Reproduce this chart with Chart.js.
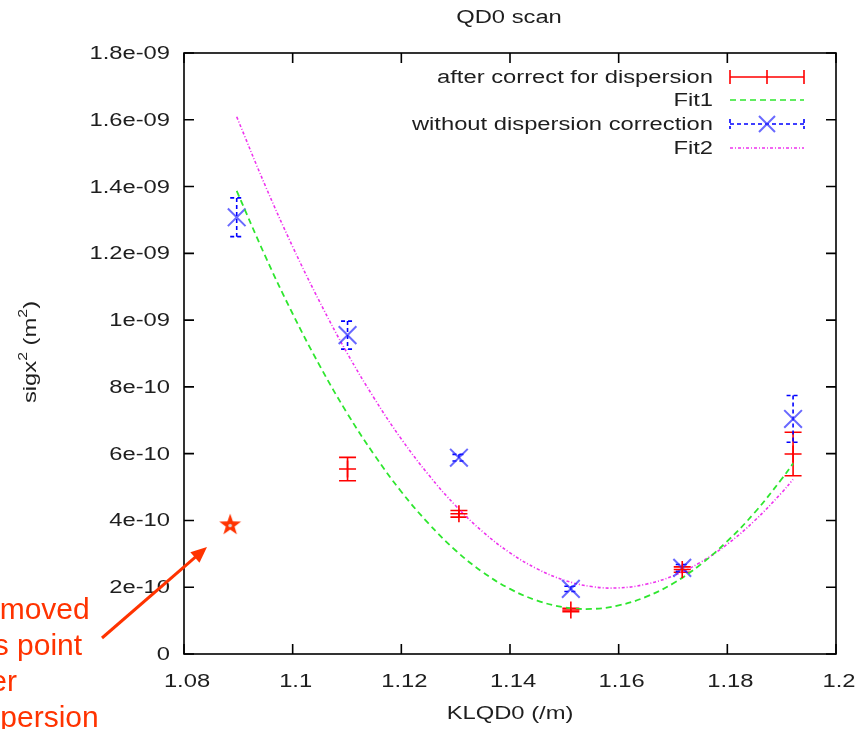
<!DOCTYPE html>
<html>
<head>
<meta charset="utf-8">
<title>QD0 scan</title>
<script src="https://cdn.jsdelivr.net/npm/chart.js@4.4.1/dist/chart.umd.min.js"></script>
<style>
  html, body { margin: 0; padding: 0; background: #fff; }
  #c { display: block; }
</style>
</head>
<body>
<canvas id="c" width="856" height="729"></canvas>
<script>
/* ── measured points: KLQD0 setting vs sigma_x^2 ── */
const kl       = [1.0897, 1.1101, 1.1306, 1.1512, 1.1717, 1.1921];
const sigCorr  = [null, 5.54e-10, 4.20e-10, 1.32e-10, 2.53e-10, 5.99e-10];
const errCorr  = [null, 0.35e-10, 0.10e-10, 0.05e-10, 0.08e-10, 0.65e-10];
const sigRaw   = [13.08e-10, 9.55e-10, 5.88e-10, 1.95e-10, 2.58e-10, 7.04e-10];
const errRaw   = [0.58e-10, 0.42e-10, 0.10e-10, 0.08e-10, 0.10e-10, 0.70e-10];

// point dropped after the dispersion correction
const removedX = [1.0885];
const removedY = [3.86e-10];

/* ── fit curves ── */
const fitX = [1.0897, 1.095, 1.100, 1.105, 1.110, 1.115, 1.120, 1.125, 1.130, 1.135, 1.140,
              1.145, 1.150, 1.155, 1.160, 1.165, 1.170, 1.175, 1.180, 1.185, 1.190, 1.1921];
const fit1 = [13.87e-10, 11.90e-10, 10.19e-10, 8.63e-10, 7.22e-10, 5.97e-10, 4.86e-10, 3.91e-10,
              3.10e-10, 2.45e-10, 1.95e-10, 1.60e-10, 1.40e-10, 1.35e-10, 1.455e-10, 1.71e-10,
              2.11e-10, 2.67e-10, 3.38e-10, 4.23e-10, 5.24e-10, 5.71e-10];
const fit2 = [16.09e-10, 14.01e-10, 12.20e-10, 10.54e-10, 9.02e-10, 7.66e-10, 6.44e-10, 5.37e-10,
              4.44e-10, 3.66e-10, 3.03e-10, 2.55e-10, 2.21e-10, 2.02e-10, 1.98e-10, 2.09e-10,
              2.34e-10, 2.74e-10, 3.29e-10, 3.99e-10, 4.83e-10, 5.23e-10];

/* ── axis ticks ── */
const xTicks = ['1.08', '1.1', '1.12', '1.14', '1.16', '1.18', '1.2'];
const yTicks = ['0', '2e-10', '4e-10', '6e-10', '8e-10', '1e-09', '1.2e-09', '1.4e-09', '1.6e-09', '1.8e-09'];

const legendLabels = ['after correct for dispersion', 'Fit1', 'without dispersion correction', 'Fit2'];
const noteLines = ['removed', 'this point', 'after', 'dispersion'];
const noteIndent = [-27, -38, -43, -38];

const RED = '#ff0000', GREEN = '#2ee62e', BLUE = '#0000ff', MAGENTA = '#ee33ee', NOTE = '#ff3300';
const TEXT = '#1e1e1e';
const FONT = '"Liberation Sans", Arial, sans-serif';
const FS = 18;
const SX = 1.32;   // gnuplot text comes out wide

function pts(xs, ys) {
  const out = [];
  xs.forEach((x, i) => { if (ys[i] !== null) out.push({ x, y: ys[i] }); });
  return out;
}
function errs(ys, es) { return es.filter((_, i) => ys[i] !== null); }

// filled star used for the dropped point
const star = document.createElement('canvas');
star.width = 26; star.height = 26;
(() => {
  const s = star.getContext('2d');
  s.beginPath();
  for (let i = 0; i < 10; i++) {
    const r = i % 2 ? 4.6 : 11.5;
    const a = -Math.PI / 2 + i * Math.PI / 5;
    s.lineTo(13 + r * Math.cos(a), 13 + r * Math.sin(a));
  }
  s.closePath();
  s.fillStyle = NOTE;
  s.fill();
  s.beginPath(); s.arc(13, 13.5, 1.8, 0, Math.PI * 2);
  s.fillStyle = '#d8d8d8'; s.fill();
})();

function wideText(ctx, str, x, y, align, size) {
  ctx.save();
  ctx.translate(x, y);
  ctx.scale(SX, 1);
  ctx.font = (size || FS) + 'px ' + FONT;
  ctx.textAlign = align;
  ctx.fillText(str, 0, 0);
  ctx.restore();
}

/* ── error bars, drawn under the markers ── */
const errorBars = {
  id: 'errorBars',
  beforeDatasetsDraw(chart) {
    const { ctx, scales: { x, y } } = chart;
    chart.data.datasets.forEach(ds => {
      if (!ds.errors) return;
      ctx.save();
      ctx.strokeStyle = ds.errColor;
      ctx.lineWidth = 1.6;
      ctx.setLineDash(ds.errDash || []);
      ds.data.forEach((p, j) => {
        const e = ds.errors[j];
        const px = x.getPixelForValue(p.x);
        const top = y.getPixelForValue(p.y + e);
        const bot = y.getPixelForValue(p.y - e);
        const cap = ds.errCap;
        ctx.beginPath();
        ctx.moveTo(px, top); ctx.lineTo(px, bot);
        ctx.moveTo(px - cap, top); ctx.lineTo(px + cap, top);
        ctx.moveTo(px - cap, bot); ctx.lineTo(px + cap, bot);
        ctx.stroke();
      });
      ctx.restore();
    });
  }
};

/* ── gnuplot style frame, ticks, labels, key and the note ── */
const frame = {
  id: 'frame',
  afterDraw(chart) {
    const { ctx, chartArea: a, scales: { x, y } } = chart;
    ctx.save();
    ctx.strokeStyle = '#000';
    ctx.lineWidth = 1.6;
    ctx.strokeRect(a.left, a.top, a.right - a.left, a.bottom - a.top);

    const T = 10;
    ctx.beginPath();
    xTicks.forEach(t => {
      const px = x.getPixelForValue(Number(t));
      ctx.moveTo(px, a.bottom); ctx.lineTo(px, a.bottom - T);
      ctx.moveTo(px, a.top); ctx.lineTo(px, a.top + T);
    });
    yTicks.forEach(t => {
      const py = y.getPixelForValue(Number(t));
      ctx.moveTo(a.left, py); ctx.lineTo(a.left + T, py);
      ctx.moveTo(a.right, py); ctx.lineTo(a.right - T, py);
    });
    ctx.stroke();

    ctx.fillStyle = TEXT;
    ctx.textBaseline = 'middle';
    xTicks.forEach(t => wideText(ctx, t, x.getPixelForValue(Number(t)) + 3, 682, 'center'));
    yTicks.forEach(t => wideText(ctx, t, 170, y.getPixelForValue(Number(t)) + 1, 'right'));

    wideText(ctx, 'QD0 scan', 509, 18, 'center');
    wideText(ctx, 'KLQD0 (/m)', 510, 714, 'center');

    // rotated y title with superscripts
    ctx.save();
    ctx.translate(31, 352);
    ctx.rotate(-Math.PI / 2);
    ctx.scale(SX, 1);
    ctx.textBaseline = 'middle';
    ctx.textAlign = 'left';
    const parts = [['sigx', FS, 0], ['2', 12, -7], [' (m', FS, 0], ['2', 12, -7], [')', FS, 0]];
    let w = 0;
    parts.forEach(p => { ctx.font = p[1] + 'px ' + FONT; w += ctx.measureText(p[0]).width; });
    let cx = -w / 2;
    parts.forEach(p => {
      ctx.font = p[1] + 'px ' + FONT;
      ctx.fillText(p[0], cx, p[2]);
      cx += ctx.measureText(p[0]).width;
    });
    ctx.restore();

    // key
    const rows = [77, 100, 124, 148];
    const k0 = 730, k1 = 804, km = (k0 + k1) / 2;
    legendLabels.forEach((l, i) => wideText(ctx, l, 713, rows[i] + 1, 'right'));
    ctx.lineWidth = 1.6;

    ctx.strokeStyle = RED; ctx.setLineDash([]);
    ctx.beginPath();
    ctx.moveTo(k0, rows[0]); ctx.lineTo(k1, rows[0]);
    [k0, km, k1].forEach(kx => { ctx.moveTo(kx, rows[0] - 7); ctx.lineTo(kx, rows[0] + 7); });
    ctx.stroke();

    ctx.strokeStyle = GREEN; ctx.setLineDash([6, 4]);
    ctx.beginPath(); ctx.moveTo(k0, rows[1]); ctx.lineTo(k1, rows[1]); ctx.stroke();

    ctx.strokeStyle = BLUE; ctx.setLineDash([4, 3]);
    ctx.beginPath();
    ctx.moveTo(k0, rows[2]); ctx.lineTo(k1, rows[2]);
    [k0, k1].forEach(kx => { ctx.moveTo(kx, rows[2] - 5); ctx.lineTo(kx, rows[2] + 5); });
    ctx.stroke();
    ctx.setLineDash([]);
    ctx.strokeStyle = 'rgba(40,40,255,0.7)';
    ctx.lineWidth = 2;
    ctx.beginPath();
    ctx.moveTo(km - 8, rows[2] - 8); ctx.lineTo(km + 8, rows[2] + 8);
    ctx.moveTo(km - 8, rows[2] + 8); ctx.lineTo(km + 8, rows[2] - 8);
    ctx.stroke();

    ctx.lineWidth = 1.6;
    ctx.strokeStyle = MAGENTA; ctx.setLineDash([3, 2, 1, 2]);
    ctx.beginPath(); ctx.moveTo(k0, rows[3]); ctx.lineTo(k1, rows[3]); ctx.stroke();
    ctx.setLineDash([]);

    // note with arrow to the dropped point
    ctx.fillStyle = NOTE;
    ctx.font = '30px ' + FONT;
    ctx.textAlign = 'left';
    ctx.textBaseline = 'alphabetic';
    noteLines.forEach((l, i) => ctx.fillText(l, noteIndent[i], 619 + i * 36));

    const ax0 = 102, ay0 = 638, ax1 = 207, ay1 = 547;
    const ang = Math.atan2(ay1 - ay0, ax1 - ax0);
    ctx.strokeStyle = NOTE; ctx.lineWidth = 3;
    ctx.beginPath();
    ctx.moveTo(ax0, ay0);
    ctx.lineTo(ax1 - 12 * Math.cos(ang), ay1 - 12 * Math.sin(ang));
    ctx.stroke();
    ctx.beginPath();
    ctx.moveTo(ax1, ay1);
    ctx.lineTo(ax1 - 16 * Math.cos(ang) + 7 * Math.sin(ang), ay1 - 16 * Math.sin(ang) - 7 * Math.cos(ang));
    ctx.lineTo(ax1 - 16 * Math.cos(ang) - 7 * Math.sin(ang), ay1 - 16 * Math.sin(ang) + 7 * Math.cos(ang));
    ctx.closePath();
    ctx.fill();
    ctx.restore();
  }
};

new Chart(document.getElementById('c'), {
  type: 'scatter',
  data: {
    datasets: [
      {
        label: legendLabels[0],
        data: pts(kl, sigCorr),
        errors: errs(sigCorr, errCorr),
        errColor: RED, errCap: 8.5,
        pointStyle: 'cross', pointRadius: 8.5, borderColor: RED, borderWidth: 1.6,
        showLine: false
      },
      {
        label: legendLabels[1],
        data: pts(fitX, fit1),
        showLine: true, pointRadius: 0, borderColor: GREEN, borderWidth: 1.8,
        borderDash: [6, 4], tension: 0.4, fill: false
      },
      {
        label: legendLabels[2],
        data: pts(kl, sigRaw),
        errors: errRaw,
        errColor: BLUE, errCap: 6.5, errDash: [4, 3],
        pointStyle: 'crossRot', pointRadius: 12.5, borderColor: 'rgba(40,40,255,0.7)', borderWidth: 2,
        showLine: false
      },
      {
        label: legendLabels[3],
        data: pts(fitX, fit2),
        showLine: true, pointRadius: 0, borderColor: MAGENTA, borderWidth: 1.6,
        borderDash: [3, 2, 1, 2], tension: 0.4, fill: false
      },
      {
        label: 'removed',
        data: pts(removedX, removedY),
        pointStyle: star, pointRadius: 12, showLine: false
      }
    ]
  },
  options: {
    responsive: false,
    animation: false,
    layout: { padding: { left: 184, right: 20, top: 53, bottom: 75 } },
    plugins: { legend: { display: false }, tooltip: { enabled: false } },
    scales: {
      x: { type: 'linear', min: 1.08, max: 1.2, display: false },
      y: { type: 'linear', min: 0, max: 1.8e-9, display: false }
    }
  },
  plugins: [errorBars, frame]
});
</script>
</body>
</html>
